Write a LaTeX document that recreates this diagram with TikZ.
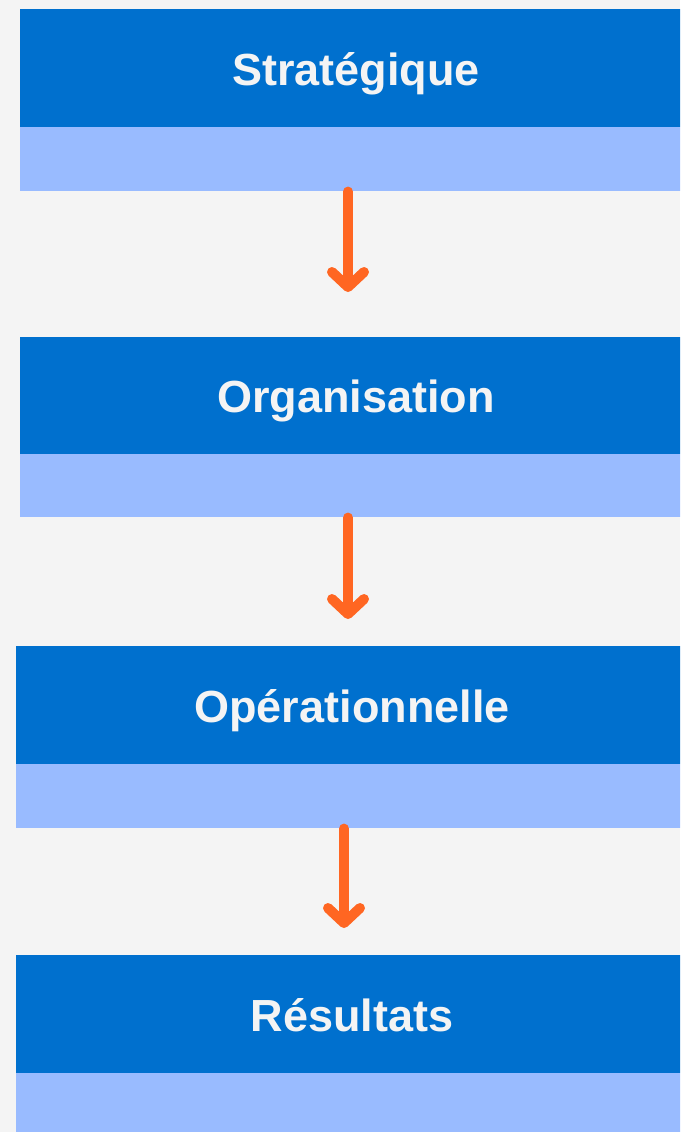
\documentclass[tikz,border=0pt]{standalone}
\usepackage{fontspec}
\setmainfont{Liberation Sans}
\usepackage{xcolor}
\usepackage{tikz}
\usetikzlibrary{positioning, calc, arrows.meta}
\definecolor{fond}{HTML}{F4F4F4}
\definecolor{bleu}{HTML}{0070CE}
\definecolor{bleuclair}{HTML}{99BBFF}
\definecolor{orange}{HTML}{FF6622}

\begin{document}
\begin{tikzpicture}[x=1pt, y=-1pt]
			\tikzstyle{titre}=[minimum width=672pt, inner sep=0pt, text height=34pt, text depth=0pt, fill=bleu, text=fond, font=\fontsize{45}{45}\selectfont\bfseries]
			\tikzstyle{bande}=[minimum width=672pt, minimum height=64pt, inner sep=0pt, fill=bleuclair]
			\tikzstyle{fleche}=[draw=orange, line width=10pt, line cap=round, -{Straight Barb[length=15pt, width=32pt, round]}]
			
			\fill[fond] (0,0) rectangle (680,1132);
			\clip (0,0) rectangle (680,1132);
			
			\node[titre, minimum height=118pt](h1) at (356,68) {Stratégique};
			\node[bande, below=0pt of h1](b1) {};
			
			\node[titre, minimum height=117pt](h2) at (356,395.5) {Organisation};
			\node[bande, below=0pt of h2, minimum height=63pt](b2) {};
			
			\node[titre, minimum height=118pt](h3) at (352,705) {Opérationnelle};
			\node[bande, below=0pt of h3](b3) {};
			
			\node[titre, minimum height=118pt](h4) at (352,1014) {Résultats};
			\node[bande, below=0pt of h4](b4) {};
			
			%% pointes des fleches
			\coordinate (f1) at (348,292);
			\coordinate (f2) at (348,619);
			\coordinate (f3) at (344,928);
			
			\draw[fleche] (b1.south -| f1) -- (f1);
			\draw[fleche] (b2.south -| f2) -- (f2);
			\draw[fleche] (b3.south -| f3) -- (f3);
			
			\end{tikzpicture}
\end{document}
